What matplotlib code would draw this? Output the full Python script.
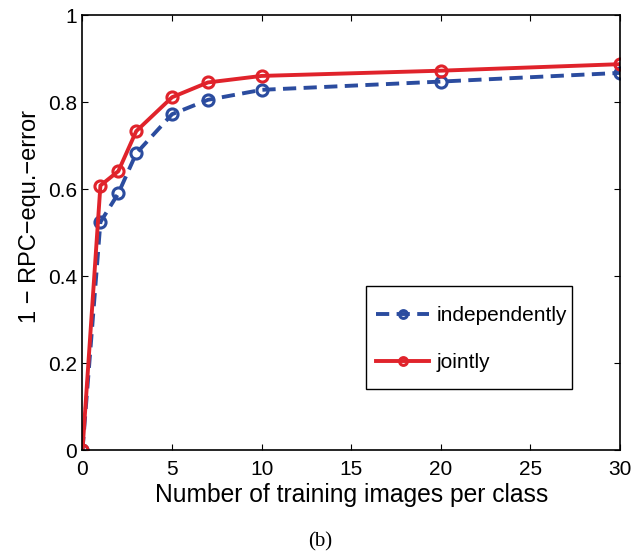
import matplotlib
matplotlib.use('Agg')
import matplotlib.pyplot as plt
from matplotlib.patches import Rectangle

# training images per class and the resulting score
n_train = [0, 1, 2, 3, 5, 7, 10, 20, 30]
indep = [0, 0.524, 0.590, 0.682, 0.772, 0.805, 0.828, 0.847, 0.867]
joint = [0, 0.608, 0.641, 0.733, 0.811, 0.845, 0.860, 0.872, 0.887]
xticks = [0, 5, 10, 15, 20, 25, 30]
yticks = [0, 0.2, 0.4, 0.6, 0.8, 1]
ytick_labels = ['0', '0.2', '0.4', '0.6', '0.8', '1']

plt.rcParams['font.family'] = ['Liberation Sans', 'DejaVu Sans']

fig = plt.figure(figsize=(6.42, 5.56), dpi=100)
ax = fig.add_axes([0.1285, 0.1906, 0.8372, 0.7824])

blue = '#2b4c9f'
red = '#e0232b'
ax.plot(n_train, indep, '--', color=blue, lw=2.8, dashes=(3.4, 1.9),
        marker='o', ms=8, mfc='none', mec=blue, mew=2.2, label='independently')
ax.plot(n_train, joint, '-', color=red, lw=2.8,
        marker='o', ms=8, mfc='none', mec=red, mew=2.2, label='jointly')

ax.set_xlim(0, 30)
ax.set_ylim(0, 1)
ax.set_xticks(xticks)
ax.set_yticks(yticks)
ax.set_yticklabels(ytick_labels)
ax.tick_params(direction='in', top=True, right=True, labelsize=15, length=4,
               width=0.8)
ax.tick_params(axis='x', pad=7)
ax.tick_params(axis='y', pad=4)
for s in ax.spines.values():
    s.set_linewidth(1.2)

ax.set_xlabel('Number of training images per class', fontsize=17.7, labelpad=3)
ax.set_ylabel('1 \u2212 RPC\u2212equ.\u2212error', fontsize=17)
ax.yaxis.set_label_coords(-0.077, 0.536)

# legend box drawn by hand so its padding can differ from the entries'
box = Rectangle((0.527, 0.14), 0.384, 0.237, transform=ax.transAxes,
                facecolor='white', edgecolor='black', lw=1.0, zorder=4.9)
ax.add_patch(box)
leg = ax.legend(loc='center left', bbox_to_anchor=(0.546, 0.255),
                fontsize=15, frameon=False, handlelength=2.55,
                labelspacing=1.32, borderpad=0, handletextpad=0.34,
                borderaxespad=0, markerscale=0.7)
leg.set_zorder(5)

fig.text(0.498, 0.026, '(b)', ha='center', va='center', fontsize=15,
         family=['Liberation Serif', 'DejaVu Serif'])

fig.savefig('out.png', dpi=100)
